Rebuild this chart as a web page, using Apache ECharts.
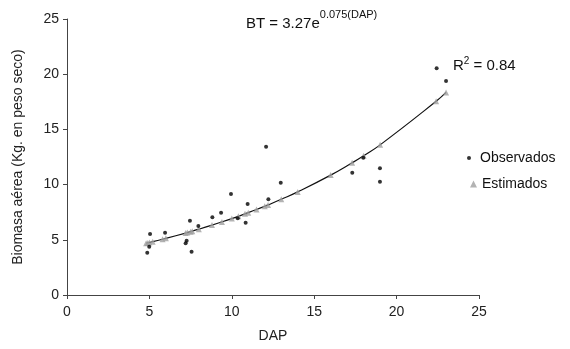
<!DOCTYPE html>
<html>
<head>
<meta charset="utf-8">
<script src="https://cdn.jsdelivr.net/npm/echarts@6/dist/echarts.min.js"></script>
<style>html,body{margin:0;padding:0;background:#fff}#c{width:570px;height:349px}</style>
</head>
<body>
<div id="c"></div>
<script>
var xTicks = [0, 5, 10, 15, 20, 25];
var yTicks = [0, 5, 10, 15, 20, 25];

var obsX = [4.87, 4.99, 5.04, 5.95, 7.2, 7.26, 7.46, 7.56, 7.97, 8.82, 9.35, 9.95, 10.36, 10.84, 10.96, 12.08, 12.22, 12.97, 17.31, 17.98, 18.99, 18.99, 22.43, 23.0];
var obsY = [3.83, 4.37, 5.53, 5.64, 4.68, 4.92, 6.73, 3.92, 6.25, 7.04, 7.46, 9.15, 6.95, 6.55, 8.24, 13.43, 8.67, 10.17, 11.08, 12.44, 11.47, 10.26, 20.53, 19.38];

var estX = [4.8, 4.9, 5.0, 5.2, 5.8, 6.0, 7.2, 7.3, 7.5, 7.6, 8.0, 8.8, 9.4, 10.0, 10.4, 10.8, 11.0, 11.5, 12.0, 12.2, 13.0, 14.0, 16.0, 17.3, 18.0, 19.0, 22.4, 23.0];
var estY = [4.69, 4.72, 4.76, 4.83, 5.05, 5.13, 5.61, 5.65, 5.74, 5.78, 5.96, 6.33, 6.62, 6.92, 7.13, 7.35, 7.46, 7.75, 8.04, 8.16, 8.67, 9.34, 10.86, 11.97, 12.61, 13.60, 17.55, 18.35];

var obs = obsX.map(function (x, i) { return [x, obsY[i]]; });
var est = estX.map(function (x, i) { return [x, estY[i]]; });

var font = 'Liberation Sans, Arial, sans-serif';
var chart = echarts.init(document.getElementById('c'), null, {renderer: 'canvas'});
chart.setOption({
  animation: false,
  backgroundColor: '#fff',
  grid: {left: 67, right: 91, top: 19, bottom: 54, containLabel: false},
  xAxis: {
    type: 'value', min: xTicks[0], max: xTicks[xTicks.length - 1], interval: 5,
    name: 'DAP', nameLocation: 'middle', nameGap: 34,
    nameTextStyle: {fontFamily: font, fontSize: 14, color: '#222'},
    axisLine: {onZero: false, lineStyle: {color: '#444', width: 1}},
    axisTick: {show: true, length: 4, lineStyle: {color: '#444'}},
    axisLabel: {fontFamily: font, fontSize: 14, color: '#222', margin: 10},
    splitLine: {show: false}
  },
  yAxis: {
    type: 'value', min: yTicks[0], max: yTicks[yTicks.length - 1], interval: 5,
    name: 'Biomasa aérea (Kg. en peso seco)', nameLocation: 'middle', nameGap: 42,
    nameTextStyle: {fontFamily: font, fontSize: 14, color: '#222'},
    axisLine: {show: true, onZero: false, lineStyle: {color: '#444', width: 1}},
    axisTick: {show: true, length: 4, lineStyle: {color: '#444'}},
    axisLabel: {fontFamily: font, fontSize: 14, color: '#222', margin: 8},
    splitLine: {show: false}
  },
  legend: [
    {
      orient: 'vertical', left: 462, top: 146, itemWidth: 4, itemHeight: 4, itemGap: 6,
      textStyle: {fontFamily: font, fontSize: 14, color: '#111', padding: [0, 0, 0, 4]},
      data: [{name: 'Observados', icon: 'circle', itemStyle: {color: '#000'}}]
    },
    {
      orient: 'vertical', left: 465, top: 172, itemWidth: 7, itemHeight: 7, itemGap: 6,
      textStyle: {fontFamily: font, fontSize: 14, color: '#111'},
      data: [{name: 'Estimados', icon: 'triangle', itemStyle: {color: '#a0a0a0'}}]
    }
  ],
  series: [
    {
      name: 'curve', type: 'line', data: est, smooth: true, symbol: 'none',
      lineStyle: {color: '#111', width: 1.2}, z: 2, silent: true
    },
    {
      name: 'Estimados', type: 'scatter', data: est, symbol: 'triangle', symbolSize: 6,
      itemStyle: {color: '#a0a0a0'}, z: 3
    },
    {
      name: 'Observados', type: 'scatter', data: obs, symbol: 'circle', symbolSize: 4,
      itemStyle: {color: '#000'}, z: 4
    }
  ],
  graphic: [
    {
      type: 'text', left: 246, top: 9,
      style: {
        text: '{b|BT = 3.27e}{s|0.075(DAP)}',
        rich: {
          b: {fontFamily: font, fontSize: 15, fill: '#111', verticalAlign: 'bottom', lineHeight: 22},
          s: {fontFamily: font, fontSize: 11, fill: '#111', verticalAlign: 'top', lineHeight: 22, padding: [0, 0, 7, 0]}
        }
      }
    },
    {
      type: 'text', left: 453, top: 56,
      style: {
        text: '{b|R}{s|2}{b| = 0.84}',
        rich: {
          b: {fontFamily: font, fontSize: 15, fill: '#111', lineHeight: 22},
          s: {fontFamily: font, fontSize: 10, fill: '#111', lineHeight: 22, padding: [0, 0, 10, 0]}
        }
      }
    }
  ]
});
</script>
</body>
</html>
